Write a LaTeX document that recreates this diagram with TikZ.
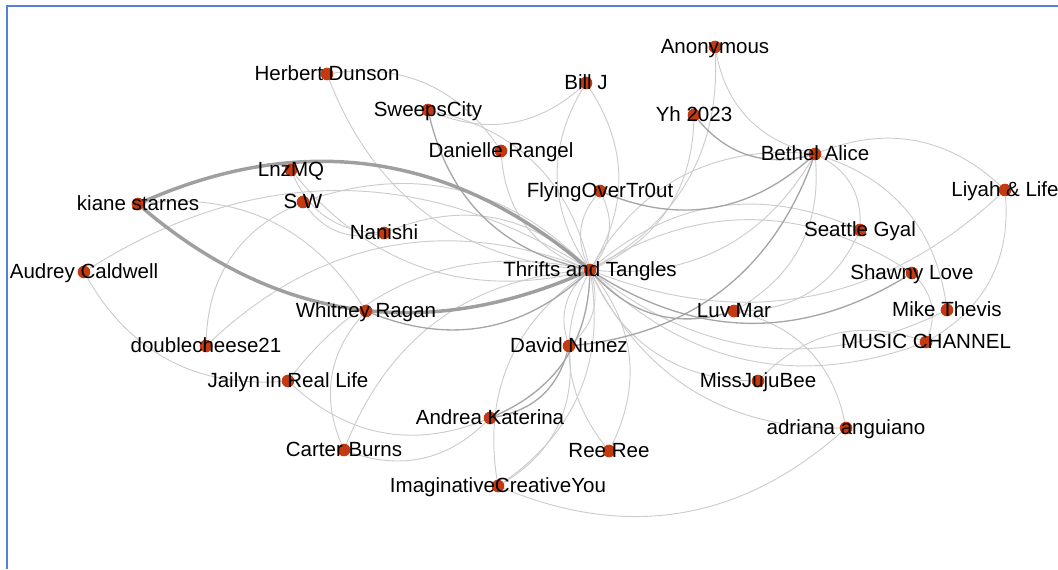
\documentclass[tikz,border=0pt]{standalone}
\usepackage{fontspec}
\setmainfont{Liberation Sans}
\usetikzlibrary{backgrounds}
\definecolor{dotred}{RGB}{196,58,16}
\definecolor{frameblue}{RGB}{84,130,214}

\begin{document}
\begin{tikzpicture}[x=0.75pt, y=0.75pt, every node/.style={font=\fontsize{15.4}{18}\selectfont}]
    % Styles
    \tikzstyle{user} = [circle, fill=dotred, inner sep=0pt, minimum size=9.5pt]
    \tikzstyle{handle} = [anchor=base, inner sep=0pt, text=black]
    \tikzstyle{reply} = [draw=gray!40, line width=0.7pt, bend right=32]
    \tikzstyle{strongreply} = [draw=gray!70, line width=1pt, bend right=32]
    \tikzstyle{heavyreply} = [draw=gray!75, line width=2.6pt, bend right=32]

    \useasboundingbox (0,0) rectangle (1058,-569);
    \draw[frameblue, line width=1.5pt] (7,-569) -- (7,-6) -- (1058,-6);

    % Nodes
    \foreach \id/\x/\y/\txt in {
        tt/590/270/Thrifts and Tangles, anon/715/47/Anonymous,
        herbert/327/74/Herbert Dunson, billj/586/83/Bill J,
        sweeps/428/110/SweepsCity, yh/694/115/Yh 2023,
        danielle/501/151/Danielle Rangel, bethel/815/154/Bethel Alice,
        lnzmq/291/170/LnzMQ, flying/600/191/FlyingOverTr0ut,
        liyah/1005/190/Liyah \& Life, kiane/138/204/kiane starnes,
        sw/303/202/S W, nanishi/384/233/Nanishi,
        seattle/860/230/Seattle Gyal, audrey/84/272/Audrey Caldwell,
        shawny/912/273/Shawny Love, whitney/366/311/Whitney Ragan,
        luvmar/734/311/Luv Mar, mike/947/310/Mike Thevis,
        dc/206/346/doublecheese21, david/569/346/David Nunez,
        music/926/342/MUSIC CHANNEL, jailyn/288/381/Jailyn in Real Life,
        juju/758/381/MissJujuBee, andrea/490/418/Andrea Katerina,
        adriana/846/428/adriana anguiano, carter/344/450/Carter Burns,
        reeree/609/451/Ree Ree, imag/498/486/ImaginativeCreativeYou}{
        \node[user] (\id) at (\x,-\y) {};
        \node[handle] (\id-text) at (\x,-\y-6.5) {\txt};
    }

    % Edges
    \begin{scope}[on background layer]
    \foreach \a/\b in {lnzmq/tt, tt/sw, tt/nanishi, herbert/tt, tt/sweeps,
        danielle/tt, tt/billj, billj/tt, tt/flying, flying/tt, tt/yh, tt/anon,
        tt/bethel, bethel/tt, tt/liyah, seattle/tt, shawny/tt, tt/mike,
        tt/music, tt/juju, tt/adriana, tt/reeree, reeree/tt, tt/david,
        david/tt, tt/imag, imag/tt, tt/carter, tt/jailyn, tt/dc, tt/audrey,
        lnzmq/nanishi, sw/nanishi, sw/dc, whitney/kiane, whitney/carter,
        jailyn/andrea, carter/andrea, imag/david, luvmar/bethel,
        seattle/bethel, liyah/bethel, mike/bethel, music/liyah, music/shawny,
        music/juju, adriana/luvmar, imag/adriana, sweeps/billj,
        danielle/herbert, luvmar/seattle, audrey/jailyn, anon/bethel}
        \draw[reply] (\a) to (\b);
    \foreach \a/\b in {sweeps/tt, whitney/tt, yh/bethel, flying/bethel,
        andrea/david, andrea/tt, david/bethel, tt/shawny, tt/luvmar}
        \draw[strongreply] (\a) to (\b);
    \draw[heavyreply] (kiane) to (tt);
    \draw[heavyreply] (tt) to (kiane);
    \end{scope}
\end{tikzpicture}
\end{document}
